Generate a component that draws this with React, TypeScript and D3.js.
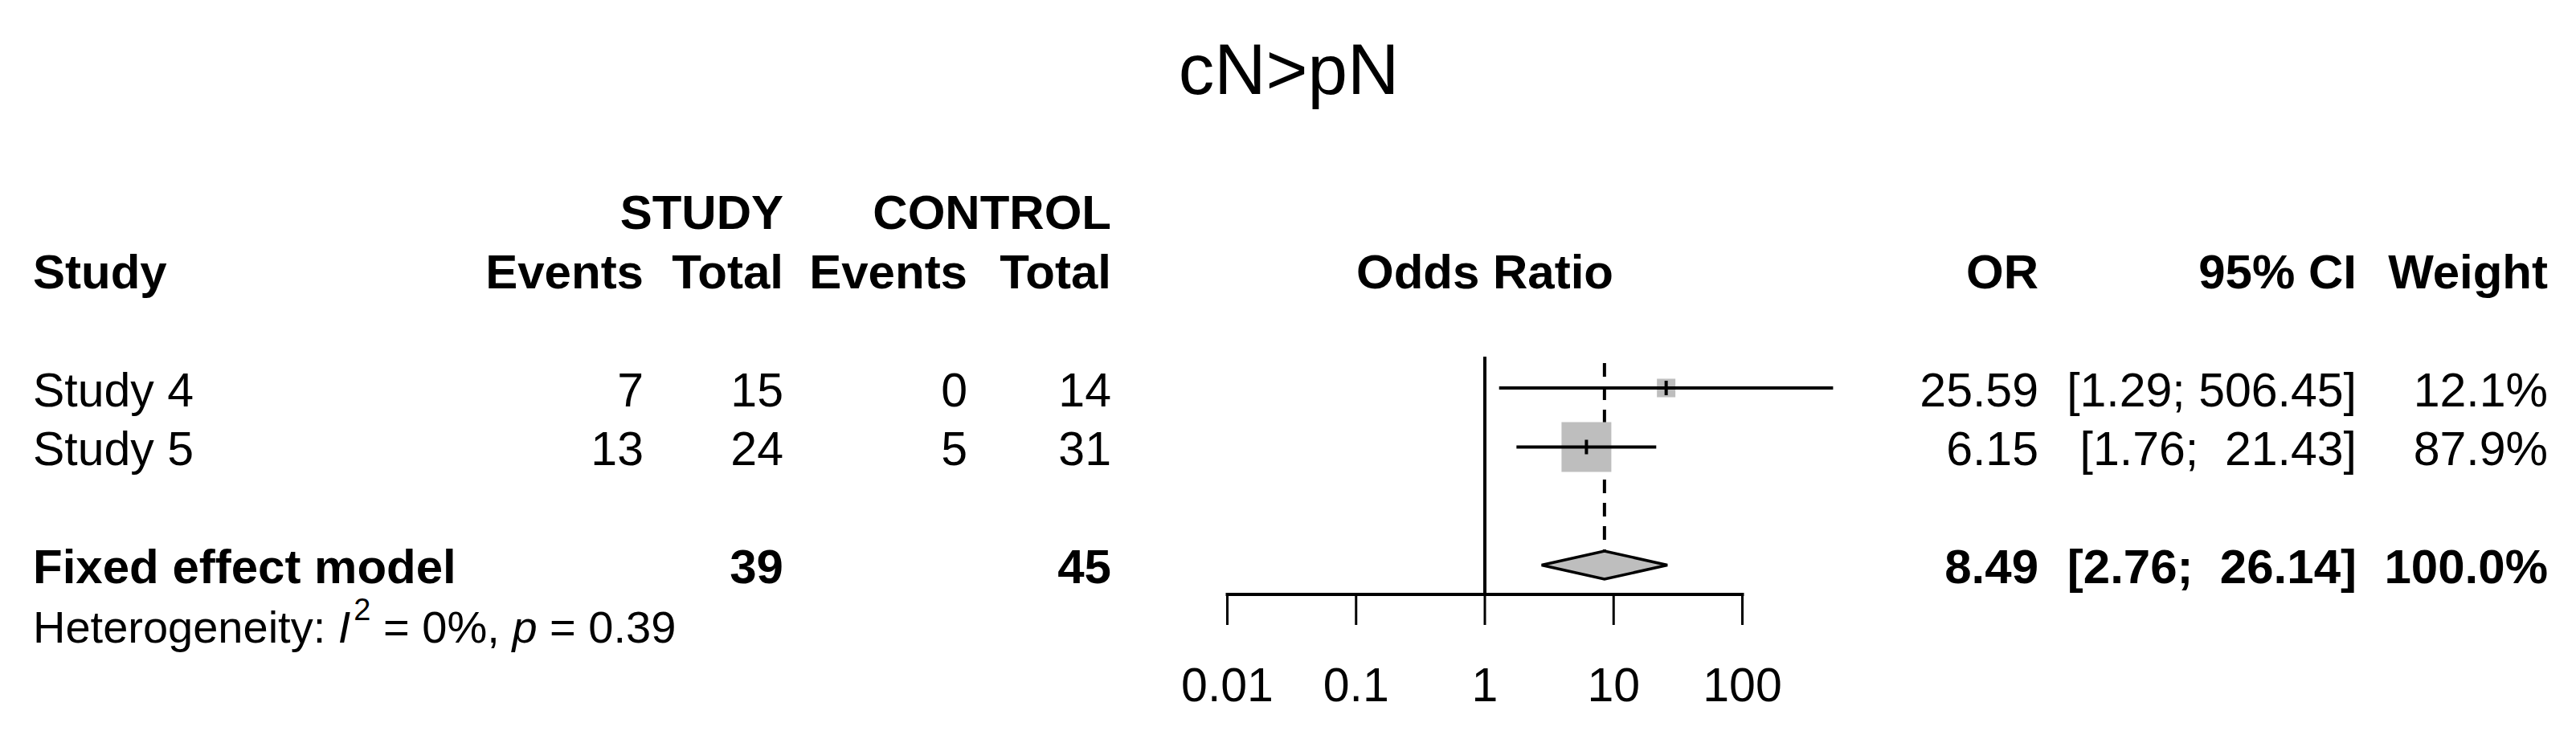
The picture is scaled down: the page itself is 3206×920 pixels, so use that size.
import React from "react";
import * as d3 from "d3";

// ---- data ----
const title = "cN>pN";
const studies = ["Study 4", "Study 5"];
const eventsStudy = [7, 13];
const totalStudy = [15, 24];
const eventsControl = [0, 5];
const totalControl = [14, 31];
const oddsRatios = [25.59, 6.15];
const ciLower = [1.29, 1.76];
const ciUpper = [506.45, 21.43];
const weights = [12.1, 87.9];

const pooledLabel = "Fixed effect model";
const pooledTotalStudy = 39;
const pooledTotalControl = 45;
const pooledOR = 8.49;
const pooledLower = 2.76;
const pooledUpper = 26.14;
const pooledWeight = 100.0;

const hetI2 = "0%";
const hetP = "0.39";

const tickValues = [0.01, 0.1, 1, 10, 100];
const tickLabels = ["0.01", "0.1", "1", "10", "100"];

// ---- layout ----
const W = 3206;
const H = 920;
const FONT = "'Liberation Sans', Arial, Helvetica, sans-serif";
const FS = 59;
const FSB = 60;

const fmtCI = (lo: number, hi: number) =>
  `[${lo.toFixed(2)}; ${hi.toFixed(2).padStart(6, " ")}]`;

export default function App() {
  const x = d3.scaleLog().domain([0.01, 100]).range([1527.5, 2168.5]);
  const rowY = d3.scaleLinear().domain([0, 1]).range([262.5, 336]);
  const base = (i: number) => rowY(i) + 22.5;
  const sq = d3.scaleSqrt().domain([0, d3.max(weights) as number]).range([0, 62]);

  const studyRows = [3, 4];
  const pooledRow = 6;
  const hetRow = 7;
  const axisY = 740;
  const refTop = 444;
  const dc = rowY(pooledRow);
  const dh = 17.5;

  const colStudyX = 41;
  const colEvS = 801;
  const colTotS = 975;
  const colEvC = 1204;
  const colTotC = 1383;
  const colOR = 2537;
  const colCI = 2933;
  const colW = 3171;

  const txt = { fontFamily: FONT, fontSize: FS, fill: "#000" } as const;
  const bold = { fontFamily: FONT, fontSize: FSB, fontWeight: 700, fill: "#000" } as const;
  const pre = { whiteSpace: "pre" } as React.CSSProperties;

  return (
    <svg
      width={W}
      height={H}
      viewBox={`0 0 ${W} ${H}`}
      style={{ position: "absolute", left: 0, top: 0, display: "block", background: "#fff" }}
    >
      <rect x={0} y={0} width={W} height={H} fill="#fff" />
      {/* title */}
      <text x={1604} y={117} textAnchor="middle" style={{ fontFamily: FONT }} fontSize={89}>
        {title}
      </text>

      {/* header rows */}
      <g {...bold}>
        <text x={colTotS} y={base(0)} textAnchor="end">STUDY</text>
        <text x={colTotC} y={base(0)} textAnchor="end">CONTROL</text>
        <text x={colStudyX} y={base(1)}>Study</text>
        <text x={colEvS} y={base(1)} textAnchor="end">Events</text>
        <text x={colTotS} y={base(1)} textAnchor="end">Total</text>
        <text x={colEvC} y={base(1)} textAnchor="end">Events</text>
        <text x={colTotC} y={base(1)} textAnchor="end">Total</text>
        <text x={x(1)} y={base(1)} textAnchor="middle">Odds Ratio</text>
        <text x={colOR} y={base(1)} textAnchor="end">OR</text>
        <text x={colCI} y={base(1)} textAnchor="end">95% CI</text>
        <text x={colW} y={base(1)} textAnchor="end">Weight</text>
      </g>

      {/* study rows text */}
      <g {...txt}>
        {studies.map((s, i) => {
          const r = studyRows[i];
          return (
            <g key={s}>
              <text x={colStudyX} y={base(r)}>{s}</text>
              <text x={colEvS} y={base(r)} textAnchor="end">{eventsStudy[i]}</text>
              <text x={colTotS} y={base(r)} textAnchor="end">{totalStudy[i]}</text>
              <text x={colEvC} y={base(r)} textAnchor="end">{eventsControl[i]}</text>
              <text x={colTotC} y={base(r)} textAnchor="end">{totalControl[i]}</text>
              <text x={colOR} y={base(r)} textAnchor="end">{oddsRatios[i].toFixed(2)}</text>
              <text x={colCI} y={base(r)} textAnchor="end" style={pre}>
                {fmtCI(ciLower[i], ciUpper[i])}
              </text>
              <text x={colW} y={base(r)} textAnchor="end">{weights[i].toFixed(1)}%</text>
            </g>
          );
        })}
      </g>

      {/* pooled row text */}
      <g {...bold}>
        <text x={colStudyX} y={base(pooledRow)}>{pooledLabel}</text>
        <text x={colTotS} y={base(pooledRow)} textAnchor="end">{pooledTotalStudy}</text>
        <text x={colTotC} y={base(pooledRow)} textAnchor="end">{pooledTotalControl}</text>
        <text x={colOR} y={base(pooledRow)} textAnchor="end">{pooledOR.toFixed(2)}</text>
        <text x={colCI} y={base(pooledRow)} textAnchor="end" style={pre}>
          {fmtCI(pooledLower, pooledUpper)}
        </text>
        <text x={colW} y={base(pooledRow)} textAnchor="end">{pooledWeight.toFixed(1)}%</text>
      </g>

      {/* heterogeneity */}
      <text x={colStudyX} y={base(hetRow)} style={{ fontFamily: FONT, ...pre }} fontSize={56}>
        <tspan>Heterogeneity: </tspan>
        <tspan fontStyle="italic">I</tspan>
        <tspan fontSize={38} dy={-28} dx={4}>2</tspan>
        <tspan dy={28}> = {hetI2}, </tspan>
        <tspan fontStyle="italic">p</tspan>
        <tspan> = {hetP}</tspan>
      </text>

      {/* reference lines */}
      <line x1={x(1)} x2={x(1)} y1={refTop} y2={axisY} stroke="#000" strokeWidth={4} />
      <line
        x1={x(pooledOR)}
        x2={x(pooledOR)}
        y1={refTop + 8}
        y2={dc - dh}
        stroke="#000"
        strokeWidth={4}
        strokeDasharray="17 12"
      />

      {/* squares */}
      {studies.map((s, i) => {
        const cy = rowY(studyRows[i]);
        const side = sq(weights[i]);
        return (
          <rect
            key={s + "sq"}
            x={x(oddsRatios[i]) - side / 2}
            y={cy - side / 2}
            width={side}
            height={side}
            fill="#bebebe"
          />
        );
      })}

      {/* CI lines and estimate ticks */}
      {studies.map((s, i) => {
        const cy = rowY(studyRows[i]);
        return (
          <g key={s + "ci"} stroke="#000">
            <line x1={x(ciLower[i])} x2={x(ciUpper[i])} y1={cy} y2={cy} strokeWidth={4} />
            <line
              x1={x(oddsRatios[i])}
              x2={x(oddsRatios[i])}
              y1={cy - 9}
              y2={cy + 9}
              strokeWidth={4}
            />
          </g>
        );
      })}

      {/* diamond */}
      <polygon
        points={[
          [x(pooledLower), dc],
          [x(pooledOR), dc - dh],
          [x(pooledUpper), dc],
          [x(pooledOR), dc + dh],
        ]
          .map((p) => p.join(","))
          .join(" ")}
        fill="#bebebe"
        stroke="#000"
        strokeWidth={3.5}
        strokeLinejoin="miter"
      />

      {/* axis */}
      <line
        x1={x(tickValues[0])}
        x2={x(tickValues[tickValues.length - 1])}
        y1={axisY}
        y2={axisY}
        stroke="#000"
        strokeWidth={4}
        strokeLinecap="square"
      />
      {tickValues.map((t, i) => (
        <g key={"t" + t}>
          <line x1={x(t)} x2={x(t)} y1={axisY} y2={axisY + 38} stroke="#000" strokeWidth={3} />
          <text x={x(t)} y={873} textAnchor="middle" {...txt}>
            {tickLabels[i]}
          </text>
        </g>
      ))}
    </svg>
  );
}
